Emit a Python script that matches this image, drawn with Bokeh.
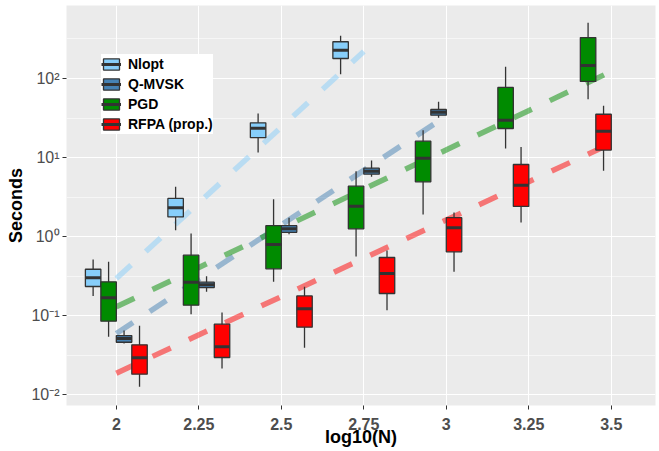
from bokeh.plotting import figure
from bokeh.models import ColumnDataSource, FixedTicker, Legend, LegendItem, Range1d
from bokeh.embed import file_html
from bokeh.resources import INLINE

# ---------------- data ----------------
ticks = [2, 2.25, 2.5, 2.75, 3, 3.25, 3.5]
tick_labels = ["2", "2.25", "2.5", "2.75", "3", "3.25", "3.5"]
y_ticks = [0.01, 0.1, 1, 10, 100]
y_tick_labels = ["10\u207b\u00b2", "10\u207b\u00b9", "10\u2070", "10\u00b9", "10\u00b2"]

methods = ["Nlopt", "Q-MVSK", "PGD", "RFPA (prop.)"]          # legend order
dodge_order = ["Nlopt", "PGD", "Q-MVSK", "RFPA (prop.)"]      # order inside a group
colors = ["#87CEFA", "#4682B4", "#008B00", "#FF0000"]

nlopt_n = [2, 2.25, 2.5, 2.75]
nlopt_lower = [0.177, 1.20, 11.6, 113]
nlopt_q1 = [0.233, 1.77, 17.8, 179]
nlopt_med = [0.30, 2.31, 23.5, 228]
nlopt_q3 = [0.385, 3.03, 27.5, 292]
nlopt_upper = [0.51, 4.25, 36, 347]

qmvsk_n = [2, 2.25, 2.5, 2.75, 3]
qmvsk_lower = [0.0442, 0.200, 1.07, 5.70, 31.8]
qmvsk_q1 = [0.0459, 0.226, 1.13, 6.15, 34.3]
qmvsk_med = [0.0512, 0.245, 1.25, 6.71, 37.4]
qmvsk_q3 = [0.0558, 0.264, 1.37, 7.33, 40.5]
qmvsk_upper = [0.0645, 0.314, 1.73, 9.16, 50.7]

pgd_n = [2, 2.25, 2.5, 2.75, 3, 3.25, 3.5]
pgd_lower = [0.0537, 0.104, 0.267, 0.558, 1.90, 13.0, 54.7]
pgd_q1 = [0.0847, 0.135, 0.39, 1.25, 4.92, 23.3, 91.7]
pgd_med = [0.168, 0.264, 0.79, 2.42, 9.8, 29.6, 146]
pgd_q3 = [0.267, 0.58, 1.37, 4.34, 16.1, 77, 330]
pgd_upper = [0.479, 1.09, 2.97, 6.71, 22.2, 141, 507]

rfpa_n = [2, 2.25, 2.5, 2.75, 3, 3.25, 3.5]
rfpa_lower = [0.0125, 0.0213, 0.039, 0.117, 0.357, 1.50, 6.8]
rfpa_q1 = [0.0181, 0.0294, 0.0711, 0.190, 0.64, 2.40, 12.4]
rfpa_med = [0.0292, 0.0402, 0.1216, 0.340, 1.29, 4.46, 21.5]
rfpa_q3 = [0.0426, 0.0776, 0.177, 0.542, 1.73, 8.15, 35.3]
rfpa_upper = [0.0741, 0.109, 0.231, 0.665, 2.01, 13.6, 45.1]

# fitted (log-log) trend lines: end points
nlopt_fit_n = [2, 2.75]
nlopt_fit_s = [0.294, 220]
qmvsk_fit_n = [2, 3]
qmvsk_fit_s = [0.0592, 33.5]
pgd_fit_n = [2, 3.5]
pgd_fit_s = [0.129, 123]
rfpa_fit_n = [2, 3.5]
rfpa_fit_s = [0.0186, 15.1]

stats = {
    "Nlopt": (nlopt_n, nlopt_lower, nlopt_q1, nlopt_med, nlopt_q3, nlopt_upper),
    "Q-MVSK": (qmvsk_n, qmvsk_lower, qmvsk_q1, qmvsk_med, qmvsk_q3, qmvsk_upper),
    "PGD": (pgd_n, pgd_lower, pgd_q1, pgd_med, pgd_q3, pgd_upper),
    "RFPA (prop.)": (rfpa_n, rfpa_lower, rfpa_q1, rfpa_med, rfpa_q3, rfpa_upper),
}
fits = {
    "Nlopt": (nlopt_fit_n, nlopt_fit_s),
    "Q-MVSK": (qmvsk_fit_n, qmvsk_fit_s),
    "PGD": (pgd_fit_n, pgd_fit_s),
    "RFPA (prop.)": (rfpa_fit_n, rfpa_fit_s),
}

# ---------------- figure ----------------
FONT = "Liberation Sans"
p = figure(width=657, height=449, output_backend="svg", toolbar_location=None,
           y_axis_type="log",
           x_range=Range1d(1.849, 3.634),
           y_range=Range1d(10 ** -2.139, 10 ** 2.924),
           min_border_left=66, min_border_right=2, min_border_top=5, min_border_bottom=44)
p.background_fill_color = "#EBEBEB"
p.border_fill_color = "white"
p.outline_line_color = None

# axes
p.xaxis.ticker = FixedTicker(ticks=ticks)
p.xaxis.major_label_overrides = {t: l for t, l in zip(ticks, tick_labels)}
ytk = FixedTicker(ticks=y_ticks, minor_ticks=[10 ** -1.5, 10 ** -0.5, 10 ** 0.5, 10 ** 1.5, 10 ** 2.5])
p.yaxis.ticker = ytk
p.yaxis.major_label_overrides = {t: l for t, l in zip(y_ticks, y_tick_labels)}

for ax in (p.xaxis[0], p.yaxis[0]):
    ax.axis_line_color = None
    ax.major_tick_line_color = "#333333"
    ax.major_tick_line_width = 1
    ax.major_tick_in = 0
    ax.major_tick_out = 4
    ax.minor_tick_line_color = None
    ax.major_label_text_color = "#4D4D4D"
    ax.major_label_text_font = FONT
    ax.major_label_text_font_size = "16px"
    ax.major_label_standoff = 3
    ax.axis_label_text_font = FONT
    ax.axis_label_text_font_style = "bold"
    ax.axis_label_text_font_size = "18px"
    ax.axis_label_text_color = "black"
    ax.axis_label_standoff = 2
p.xaxis.major_label_text_font_style = "bold"
p.xaxis.major_label_standoff = 8
p.xaxis.axis_label_standoff = -6
p.xaxis.axis_label = "log10(N)"
p.yaxis.axis_label = "Seconds"

p.xgrid.grid_line_color = "white"
p.xgrid.grid_line_width = 1.1
p.ygrid.grid_line_color = "white"
p.ygrid.grid_line_width = 1.1
p.ygrid.minor_grid_line_color = "white"
p.ygrid.minor_grid_line_width = 0.55

# trend lines (drawn first, under boxes)
for m, c in zip(methods, colors):
    fx, fy = fits[m]
    p.line(fx, fy, line_color=c, line_alpha=0.5, line_width=5.5, line_dash="20 20")

# boxplots
w = 0.75 * 0.25 / 4
box_r = {}
med_r = {}
for m, c in zip(methods, colors):
    n, lo, q1, md, q3, up = stats[m]
    xs = []
    for t in n:
        present = [d for d in dodge_order if t in stats[d][0]]
        i = present.index(m)
        xs.append(t + (i - 1.5) * w)
    src = ColumnDataSource(dict(x=xs, lo=lo, q1=q1, md=md, q3=q3, up=up,
                                x0=[x - w / 2 for x in xs], x1=[x + w / 2 for x in xs]))
    p.segment(x0="x", y0="lo", x1="x", y1="up", source=src, line_color="#333333", line_width=1.3)
    box_r[m] = p.vbar(x="x", width=w, bottom="q1", top="q3", source=src, fill_color=c,
                      line_color="#333333", line_width=1.3)
    med_r[m] = p.segment(x0="x0", y0="md", x1="x1", y1="md", source=src,
                         line_color="#333333", line_width=3)

legend = Legend(items=[LegendItem(label=m, renderers=[box_r[m], med_r[m]]) for m in methods],
                location=(35, 271))
legend.background_fill_color = "white"
legend.background_fill_alpha = 1
legend.border_line_color = None
legend.padding = 8
legend.margin = 0
legend.spacing = 0
legend.label_height = 20
legend.glyph_height = 14
legend.glyph_width = 20
legend.label_standoff = 7
legend.label_text_font = FONT
legend.label_text_font_style = "bold"
legend.label_text_font_size = "14px"
legend.label_text_color = "black"
p.add_layout(legend)

open("out.html", "w").write(file_html(p, INLINE))
